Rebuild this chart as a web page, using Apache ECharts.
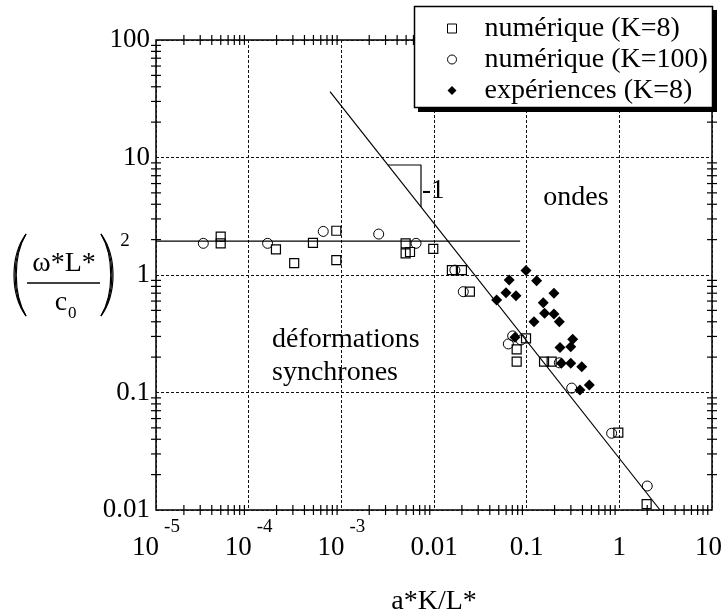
<!DOCTYPE html>
<html>
<head>
<meta charset="utf-8">
<script src="https://cdn.jsdelivr.net/npm/echarts@6/dist/echarts.min.js"></script>
<style>
    html, body, #main {
        width: 100%;
        height: 100%;
        margin: 0;
        padding: 0;
        background: #fff;
    }
</style>
</head>
<body>
<div id="main"></div>
<script>
var FONT = 'Liberation Serif';

// tick labels
var xTickBase = ['10', '10', '10', '0.01', '0.1', '1', '10'];
var xTickExp = ['-5', '-4', '-3', '', '', '', ''];
var yTickLabels = ['0.01', '0.1', '1', '10', '100'];
var minorMult = [2, 3, 4, 5, 6, 7, 8, 9];

// numérique (K=8), squares
var numK8 = [
    [4.99e-5, 2.12], [4.99e-5, 1.86], [1.97e-4, 1.65], [3.10e-4, 1.26],
    [4.94e-4, 1.88], [8.83e-4, 2.38], [8.83e-4, 1.34], [4.94e-3, 1.86],
    [4.94e-3, 1.53], [5.51e-3, 1.57], [9.82e-3, 1.67], [0.0156, 1.10],
    [0.0200, 1.10], [0.0244, 0.721], [0.0984, 0.289], [0.078, 0.233],
    [0.078, 0.183], [0.154, 0.183], [0.186, 0.183], [0.975, 0.0455],
    [1.97, 0.0112]
];
// numérique (K=100), circles
var numK100 = [
    [3.24e-5, 1.86], [1.60e-4, 1.86], [6.38e-4, 2.35], [2.53e-3, 2.23],
    [6.40e-3, 1.86], [0.0168, 1.10], [0.0207, 0.721], [0.0706, 0.303],
    [0.0634, 0.259], [0.0869, 0.280], [0.225, 0.179], [0.306, 0.109],
    [0.826, 0.045], [2.00, 0.016]
];
// expériences (K=8), filled diamonds
var experiences = [
    [0.0984, 1.09], [0.0648, 0.906], [0.128, 0.893], [0.0598, 0.707],
    [0.0767, 0.667], [0.197, 0.699], [0.0474, 0.612], [0.151, 0.581],
    [0.156, 0.472], [0.197, 0.466], [0.225, 0.401], [0.120, 0.401],
    [0.0748, 0.295], [0.314, 0.284], [0.229, 0.241], [0.299, 0.245],
    [0.237, 0.177], [0.299, 0.177], [0.393, 0.166], [0.376, 0.105],
    [0.474, 0.116]
];

// guide lines
var slopeLine = [[7.55e-4, 36.4], [2.75, 0.01]];
var plateauLine = [[1e-5, 1.94], [0.085, 1.94]];
var slopeTriangle = [[3.19e-3, 8.63], [7.24e-3, 8.63], [7.24e-3, 3.8]];

// axis extents
var xMin = 1e-5, xMax = 10, yMin = 0.01, yMax = 100;

// log minor tick values (2..9 in each decade)
var xMinor = [];
var yMinor = [];
[-5, -4, -3, -2, -1, 0].forEach(function (p) {
    minorMult.forEach(function (m) { xMinor.push(m * Math.pow(10, p)); });
});
[-2, -1, 0, 1].forEach(function (p) {
    minorMult.forEach(function (m) { yMinor.push(m * Math.pow(10, p)); });
});

var chart = echarts.init(document.getElementById('main'));

// minor ticks: thin rects centred on the frame
var eps = 1.0001; // keeps anchors a hair inside the clip area
function tickSeries(side, data, size) {
    return {
        type: 'scatter', name: 'tick ' + side, data: data, z: 3,
        symbol: 'rect', symbolSize: size,
        itemStyle: {color: '#000', opacity: 1},
        emphasis: {disabled: true}, tooltip: {show: false}
    };
}

// a parenthesis made of three bezier strokes, thicker in the middle
function paren(x, yTop, yBot, bulges) {
    return bulges.map(function (b) {
        return {
            type: 'bezierCurve', z: 10,
            shape: {x1: x, y1: yTop, x2: x, y2: yBot, cpx1: x + b, cpy1: yTop + 22, cpx2: x + b, cpy2: yBot - 22},
            style: {stroke: '#000', lineWidth: 1.2, fill: null}
        };
    });
}

var gridLine = {show: true, lineStyle: {color: '#111', width: 1, type: [3, 2]}};
var lineStyle = {color: '#000', width: 1.2};
var textFont = '28px "Liberation Serif"';

chart.setOption({
    animation: false,
    backgroundColor: '#fff',
    grid: {
        left: 156, top: 40, width: 556, height: 470,
        containLabel: false, outerBoundsMode: 'none',
        show: true, borderColor: '#000', borderWidth: 1.5, backgroundColor: '#fff'
    },
    legend: {
        left: 414, top: 6, orient: 'vertical',
        padding: [7, 0, 0, 33],
        itemWidth: 9, itemHeight: 9, itemGap: 0,
        z: 60,
        textStyle: {fontFamily: FONT, fontSize: 28, lineHeight: 31, color: '#000', padding: [0, 0, 0, 23]},
        data: [
            {name: 'numérique (K=8)', icon: 'path://M0,0H10V10H0Z',
                itemStyle: {color: 'transparent', borderColor: '#000', borderWidth: 1}},
            {name: 'numérique (K=100)', icon: 'circle',
                itemStyle: {color: 'transparent', borderColor: '#000', borderWidth: 1}},
            {name: 'expériences (K=8)', icon: 'path://M5,0L10,5L5,10L0,5Z',
                itemStyle: {color: '#000', borderWidth: 0}}
        ]
    },
    xAxis: {
        type: 'log', logBase: 10, min: xMin, max: xMax, splitNumber: 6,
        name: 'a*K/L*', nameLocation: 'middle', nameGap: 78,
        nameTextStyle: {fontFamily: FONT, fontSize: 28, color: '#000'},
        axisLine: {show: false},
        axisTick: {show: false},
        splitLine: gridLine,
        axisLabel: {
            margin: 8,
            formatter: function (v) {
                var i = Math.round(Math.log10(v)) + 5;
                var tag = i === xTickBase.length - 1 ? 'e' : 'b';
                var s = '{' + tag + '|' + xTickBase[i] + '}';
                if (xTickExp[i]) s += '{s|' + xTickExp[i] + '}';
                return s;
            },
            rich: {
                b: {fontFamily: FONT, fontSize: 27, color: '#000', padding: [16, 0, 0, 0], verticalAlign: 'bottom'},
                e: {fontFamily: FONT, fontSize: 27, color: '#000', padding: [16, 7, 0, 0], verticalAlign: 'bottom'},
                s: {fontFamily: FONT, fontSize: 19, color: '#000', padding: [0, 0, 0, 5], verticalAlign: 'top'}
            }
        }
    },
    yAxis: {
        type: 'log', logBase: 10, min: yMin, max: yMax, splitNumber: 4,
        axisLine: {show: false},
        axisTick: {show: false},
        splitLine: gridLine,
        axisLabel: {
            margin: 6,
            fontFamily: FONT, fontSize: 27, color: '#000',
            formatter: function (v) {
                return yTickLabels[Math.round(Math.log10(v)) + 2];
            }
        }
    },
    graphic: [
        // legend frame with drop shadow
        {type: 'rect', z: 50, shape: {x: 418, y: 10, width: 299, height: 102}, style: {fill: '#000'}},
        {type: 'rect', z: 51, shape: {x: 414.5, y: 6.5, width: 298, height: 101},
            style: {fill: '#fff', stroke: '#000', lineWidth: 1.5}},
        // y axis title (omega*L*/c0)^2
        {type: 'text', z: 10, style: {text: 'ω*L*', x: 64, y: 264, align: 'center', verticalAlign: 'middle',
            font: textFont, fill: '#000'}},
        {type: 'line', z: 10, shape: {x1: 27, y1: 283, x2: 100, y2: 283}, style: {stroke: '#000', lineWidth: 1.5}},
        {type: 'text', z: 10, style: {text: 'c', x: 61, y: 303, align: 'center', verticalAlign: 'middle',
            font: textFont, fill: '#000'}},
        {type: 'text', z: 10, style: {text: '0', x: 68, y: 314, align: 'left', verticalAlign: 'middle',
            font: '17px "Liberation Serif"', fill: '#000'}},
        {type: 'text', z: 10, style: {text: '2', x: 125, y: 241, align: 'center', verticalAlign: 'middle',
            font: '19px "Liberation Serif"', fill: '#000'}},
        // region annotations
        {type: 'text', z: 10, style: {text: '-1', x: 422, y: 191, align: 'left', verticalAlign: 'middle',
            font: '27px "Liberation Serif"', fill: '#000'}},
        {type: 'text', z: 10, style: {text: 'ondes', x: 576, y: 198, align: 'center', verticalAlign: 'middle',
            font: textFont, fill: '#000'}},
        {type: 'text', z: 10, style: {text: 'déformations', x: 272, y: 340, align: 'left', verticalAlign: 'middle',
            font: textFont, fill: '#000'}},
        {type: 'text', z: 10, style: {text: 'synchrones', x: 272, y: 373, align: 'left', verticalAlign: 'middle',
            font: textFont, fill: '#000'}}
    ].concat(paren(26, 234, 316, [-13, -14.5, -16]), paren(101, 234, 316, [13, 14.5, 16])),
    series: [
        tickSeries('bottom', xMinor.map(function (v) { return [v, yMin * eps]; }), [1.2, 10]),
        tickSeries('top', xMinor.map(function (v) { return [v, yMax / eps]; }), [1.2, 10]),
        tickSeries('left', yMinor.map(function (v) { return [xMin * eps, v]; }), [10, 1.2]),
        tickSeries('right', yMinor.map(function (v) { return [xMax / eps, v]; }), [10, 1.2]),
        {type: 'line', name: 'pente', data: slopeLine, symbol: 'none', silent: true, lineStyle: lineStyle, z: 2},
        {type: 'line', name: 'plateau', data: plateauLine, symbol: 'none', silent: true, lineStyle: lineStyle, z: 2},
        {type: 'line', name: 'triangle', data: slopeTriangle, symbol: 'none', silent: true, lineStyle: lineStyle, z: 2},
        {
            type: 'scatter', name: 'numérique (K=8)', data: numK8,
            symbol: 'rect', symbolSize: 9, z: 4,
            itemStyle: {color: 'transparent', borderColor: '#000', borderWidth: 1.2, opacity: 1}
        },
        {
            type: 'scatter', name: 'numérique (K=100)', data: numK100,
            symbol: 'circle', symbolSize: 10, z: 4,
            itemStyle: {color: 'transparent', borderColor: '#000', borderWidth: 1, opacity: 1}
        },
        {
            type: 'scatter', name: 'expériences (K=8)', data: experiences,
            symbol: 'diamond', symbolSize: 11, z: 4,
            itemStyle: {color: '#000', opacity: 1}
        }
    ]
});
</script>
</body>
</html>
